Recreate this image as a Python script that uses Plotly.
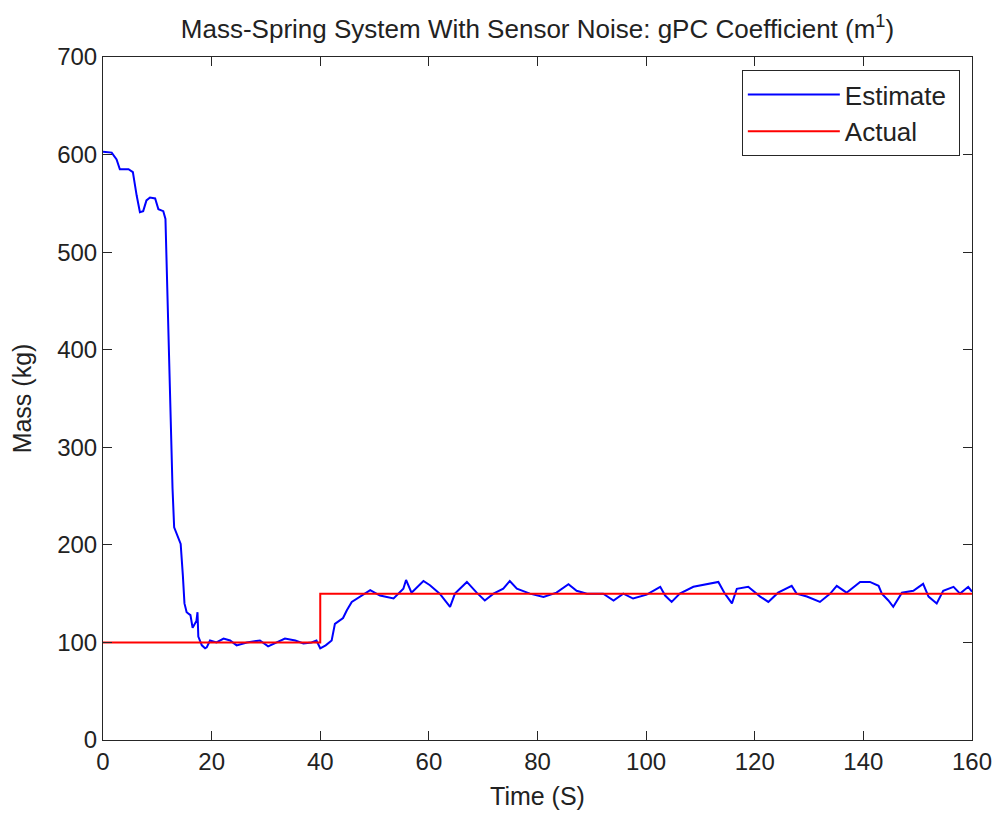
import plotly.graph_objects as go

# Estimate series
est_t = [0, 1.6, 2.5, 3.1, 4.7, 5.5, 6.2, 6.8, 7.4, 8.0, 8.65, 9.6, 10.2, 11.1, 11.5, 11.6, 12.0, 12.5,
         12.8, 13.1, 13.6, 14.3, 14.7, 15.0, 15.4, 16.1, 16.5, 17.2, 17.4, 17.55, 18.2, 18.8, 19.1, 19.7,
         20.9, 22.2, 23.4, 24.6, 26.5, 28.9, 30.4, 32.0, 33.5, 35.4, 36.9, 38.4, 39.3, 40.0, 41.0, 42.1,
         42.7, 44.2, 44.9, 45.8, 47.6, 49.2, 51.0, 53.5, 55.3, 55.8, 56.8, 59.0, 60.2, 62.0, 63.9, 64.8,
         67.0, 68.8, 70.3, 71.9, 73.7, 74.9, 76.2, 78.6, 81.1, 83.5, 85.7, 87.2, 89.1, 92.1, 94.0, 95.8,
         97.6, 100.1, 102.6, 103.5, 104.7, 106.2, 108.7, 111.2, 113.3, 114.5, 115.8, 116.7, 118.8, 121.0,
         122.5, 124.3, 126.8, 127.7, 129.6, 132.0, 133.9, 135.1, 136.9, 139.4, 141.2, 142.8, 143.4, 144.6,
         145.5, 147.1, 149.2, 151.0, 152.0, 153.5, 154.7, 156.6, 157.8, 159.3, 160]
est_m = [603, 602, 595, 585, 585, 582, 558, 541, 542, 553, 556, 555, 544, 542, 534, 512, 416, 322,
         258, 218, 210, 201, 169, 140, 131, 128, 115, 122, 131, 106, 97, 94, 95, 102,
         100, 104, 102, 97, 100, 102, 96, 100, 104, 102, 99, 100, 102, 94, 97, 102,
         119, 125, 133, 141.5, 148, 153.5, 148, 145, 155, 164, 151, 163, 158.6, 150, 136.5, 150,
         162, 151, 143, 150, 155, 163, 155, 150, 146.7, 151, 159.7, 153, 150, 150, 143, 150,
         145, 149, 157, 148, 141.5, 150, 157, 159.7, 162, 150, 140, 155, 157, 147,
         141.5, 151, 158, 150, 147, 141.5, 150, 158, 151, 162, 162, 158, 150, 143,
         136.5, 151, 153, 160, 147, 140, 153, 157, 150, 157, 152]
assert len(est_t) == len(est_m), (len(est_t), len(est_m))

# Actual series
act_t = [0, 40, 40, 160]
act_m = [100, 100, 150, 150]

x_ticks = [0, 20, 40, 60, 80, 100, 120, 140, 160]
y_ticks = [0, 100, 200, 300, 400, 500, 600, 700]

FONT = "Liberation Sans, Arial, sans-serif"
AX = "#262626"
TXT = "#222222"

fig = go.Figure()
fig.add_trace(go.Scatter(x=est_t, y=est_m, mode="lines", name="Estimate\u00a0",
                         line=dict(color="#0000ff", width=2)))
fig.add_trace(go.Scatter(x=act_t, y=act_m, mode="lines", name="Actual",
                         line=dict(color="#ff0000", width=2)))

axis_common = dict(showgrid=False, zeroline=False, showline=True, linecolor=AX, linewidth=1,
                   mirror="ticks", ticks="inside", ticklen=9, tickcolor=AX, tickwidth=1,
                   automargin=False,
                   tickfont=dict(family=FONT, size=24, color=TXT))

fig.update_layout(
    width=997, height=816,
    margin=dict(l=103, r=25, t=57, b=76),
    paper_bgcolor="white", plot_bgcolor="white",
    font=dict(family=FONT, color=TXT),
    title=dict(text="Mass-Spring System With Sensor Noise: gPC Coefficient (m<sup>1</sup>)",
               x=0.5, xref="paper", xanchor="center", y=1 - 29 / 816, yanchor="middle",
               font=dict(family=FONT, size=26, color=TXT)),
    xaxis=dict(range=[0, 160], tickvals=x_ticks, ticktext=[str(v) for v in x_ticks],
               title=dict(text="Time (S)", font=dict(family=FONT, size=25, color=TXT), standoff=13),
               **axis_common),
    yaxis=dict(range=[0, 700], tickvals=y_ticks, ticktext=[str(v) for v in y_ticks],
               title=dict(text="Mass (kg)", font=dict(family=FONT, size=25, color=TXT), standoff=18),
               **axis_common),
    legend=dict(x=0.986, y=0.981, xanchor="right", yanchor="top", bgcolor="white",
                bordercolor=AX, borderwidth=1, itemwidth=92,
                font=dict(family=FONT, size=26, color=TXT)),
    showlegend=True,
)

fig.write_html("out.html")
